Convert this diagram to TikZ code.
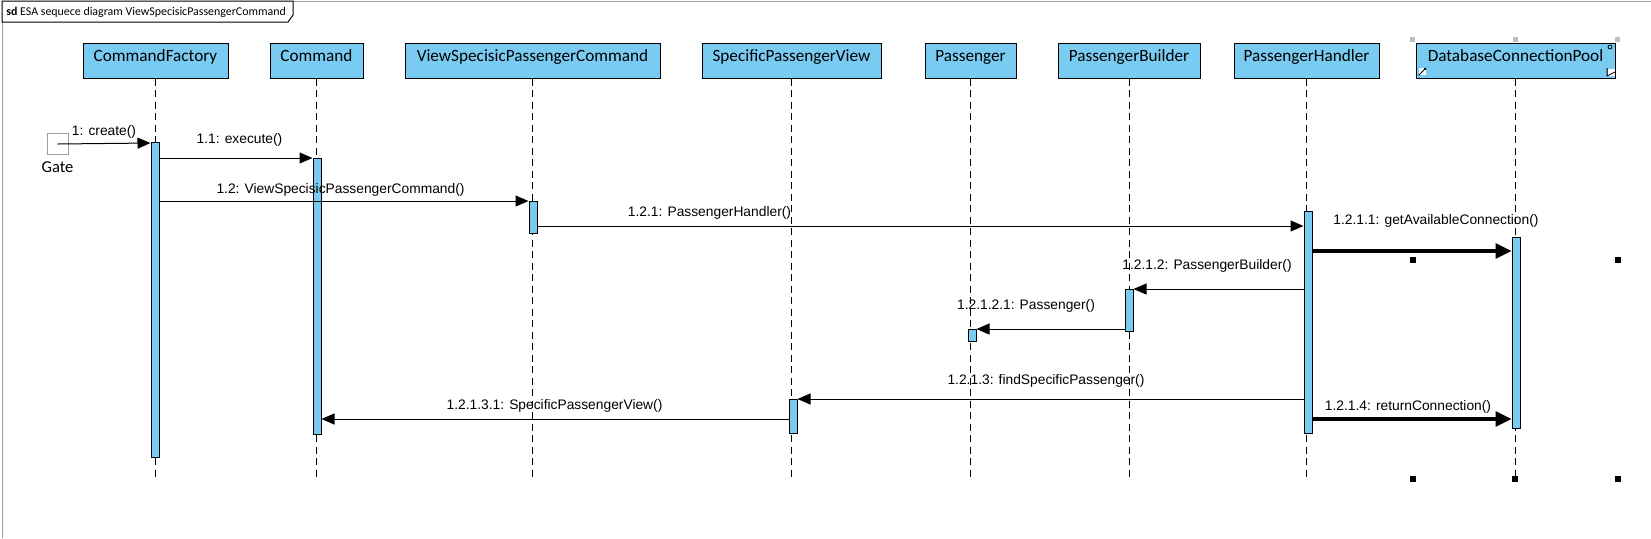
\documentclass[tikz,border=0pt]{standalone}
\usepackage{fontspec}
\setmainfont{Liberation Sans}
\newfontfamily\headfont{Carlito}
\usetikzlibrary{arrows.meta,positioning,calc}
\definecolor{LifeBlue}{HTML}{7ACBF2}
\definecolor{FrameGray}{HTML}{A0A0A0}
\definecolor{HandleGray}{HTML}{BDBDBD}

\begin{document}
\begin{tikzpicture}[x=0.5pt,y=-0.5pt,
head/.style={draw=black,line width=0.5pt,fill=LifeBlue,minimum height=17.5pt,inner sep=0pt,text depth=4.5pt,font=\headfont\fontsize{8.6}{10}\selectfont},
bar/.style={draw=black,line width=0.5pt,fill=LifeBlue,minimum width=4pt,inner sep=0pt,anchor=north},
life/.style={line width=0.5pt,dash pattern=on 3.5pt off 2.25pt},
msg/.style={-{Triangle[length=6.5pt,width=5.5pt]},line width=0.5pt},
thickmsg/.style={-{Triangle[length=8pt,width=7.5pt]},line width=1.6pt},
lbl/.style={inner sep=0pt,font=\fontsize{6.9}{8}\selectfont},
handle/.style={minimum size=2.75pt,inner sep=0pt,fill=black},
grayhandle/.style={minimum size=2.5pt,inner sep=0pt,fill=HandleGray}]
\useasboundingbox (0,0) rectangle (1651,538);
% frame and its tab
\draw[FrameGray,line width=0.5pt] (2,538) -- (2,1) -- (1651,1);
\draw[fill=white,line width=0.5pt] (2,1) -- (293,1) -- (293,15) -- (288,22) -- (2,22) -- cycle;
\node[anchor=west,inner sep=0pt,font=\headfont\fontsize{5.95}{7}\selectfont] (title) at (6,12) {\textbf{sd} ESA sequece diagram ViewSpecisicPassengerCommand};
% lifeline heads
\node[head,minimum width=72.5pt] (cf) at (155.5,60.5) {CommandFactory};
\node[head,minimum width=46.5pt] (cmd) at (316.5,60.5) {Command};
\node[head,minimum width=127.5pt] (vspc) at (532.5,60.5) {ViewSpecisicPassengerCommand};
\node[head,minimum width=89.5pt] (spv) at (791.5,60.5) {SpecificPassengerView};
\node[head,minimum width=45.5pt] (pass) at (970.5,60.5) {Passenger};
\node[head,minimum width=71pt] (pb) at (1129,60.5) {PassengerBuilder};
\node[head,minimum width=72.5pt] (ph) at (1306.5,60.5) {PassengerHandler};
\node[head,minimum width=99.5pt] (dcp) at (1515.5,60.5) {DatabaseConnectionPool};
% dashed lifelines
\coordinate (lend) at (0,477);
\foreach \n in {cf,cmd,vspc,spv,pass,pb,ph,dcp}
  \draw[life] (\n.south) -- (\n.south |- lend);
% activation bars
\node[bar,minimum height=157.5pt] (bcf) at (155,142) {};
\node[bar,minimum height=138pt] (bcmd) at (317,158) {};
\node[bar,minimum height=16pt] (bvspc) at (533,201) {};
\node[bar,minimum height=111pt] (bph) at (1308,211) {};
\node[bar,minimum height=95.5pt] (bdcp) at (1516,237) {};
\node[bar,minimum height=21pt] (bpb) at (1129,289) {};
\node[bar,minimum height=6pt] (bpass) at (972,329) {};
\node[bar,minimum height=17pt] (bspv) at (793,399) {};
% gate
\node[draw=FrameGray,line width=0.5pt,minimum size=10.5pt,inner sep=0pt] (gate) at (57.5,144) {};
\node[below=3pt of gate,inner sep=0pt,font=\headfont\fontsize{8.3}{10}\selectfont] (gatelbl) {Gate};
% messages
\coordinate (y121) at (0,226);
\coordinate (y1211) at (0,251);
\coordinate (y1213) at (0,419);
\draw[msg] (gate.center) -- ([yshift=-0.5pt]bcf.north west);
\draw[msg] (bcf.east |- bcmd.north) -- (bcmd.north west);
\draw[msg] (bcf.east |- bvspc.north) -- (bvspc.north west);
\draw[msg] (bvspc.east |- y121) -- (bph.west |- y121);
\draw[thickmsg] (bph.east |- y1211) -- (bdcp.west |- y1211);
\draw[msg] (bph.west |- bpb.north) -- (bpb.north east);
\draw[msg] (bpb.west |- bpass.north) -- (bpass.north east);
\draw[msg] (bph.west |- bspv.north) -- (bspv.north east);
\draw[msg] (bspv.west |- y1213) -- (bcmd.east |- y1213);
\draw[thickmsg] (bph.east |- y1213) -- (bdcp.west |- y1213);
% message labels
\node[lbl] (l1) at (104,132) {1: create()};
\node[lbl] (l11) at (239.5,140) {1.1: execute()};
\node[lbl] (l12) at (340.5,190) {1.2: ViewSpecisicPassengerCommand()};
\node[lbl] (l121) at (709.5,213) {1.2.1: PassengerHandler()};
\node[lbl] (l1211) at (1436,221) {1.2.1.1: getAvailableConnection()};
\node[lbl] (l1212) at (1207,266) {1.2.1.2: PassengerBuilder()};
\node[lbl] (l12121) at (1026,306) {1.2.1.2.1: Passenger()};
\node[lbl] (l1213) at (1046,381) {1.2.1.3: findSpecificPassenger()};
\node[lbl] (l12131) at (554.5,406) {1.2.1.3.1: SpecificPassengerView()};
\node[lbl] (l1214) at (1408,407) {1.2.1.4: returnConnection()};
% selection handles
\foreach \x in {1412.5,1515.5,1617.5}
  \node[grayhandle] at (\x,39.5) {};
\foreach \x/\y in {1413/260,1618/260,1413/479,1515/479,1618/479}
  \node[handle] at (\x,\y) {};
% small icons in the selected head
\node[fill=white,minimum size=3.5pt,inner sep=0pt] (icnw) at (1422.5,71.5) {};
\draw[-{Triangle[length=1.2pt,width=1.2pt]},line width=0.4pt] (icnw.south west) -- (icnw.north east);
\node[fill=white,minimum size=3.5pt,inner sep=0pt] (icse) at (1611,72) {};
\draw[line width=0.4pt] (icse.north west) -- (icse.south west) -- (icse.east);
\draw[line width=0.4pt] (1610,47) circle (2);
\end{tikzpicture}
\end{document}
